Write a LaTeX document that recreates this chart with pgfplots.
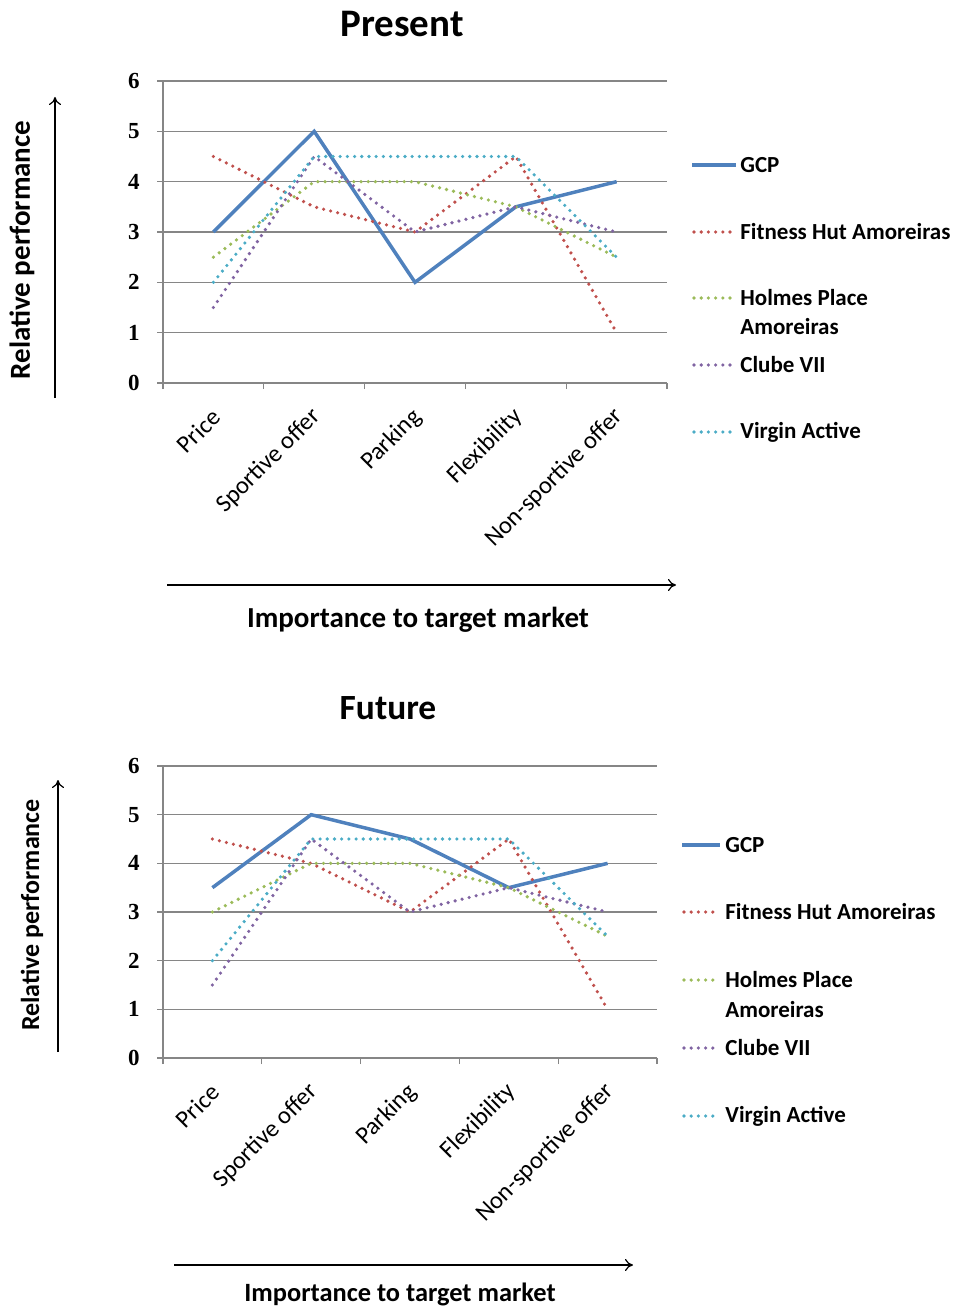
\documentclass[border=0pt]{standalone}
\usepackage{fontspec}
\setmainfont{Carlito}
\newfontfamily\numfont{Liberation Serif}
\usepackage{pgfplots}
\pgfplotsset{compat=1.18}
\usetikzlibrary{arrows.meta}
\definecolor{gcpblue}{HTML}{4F81BD}
\definecolor{fitred}{HTML}{C0504D}
\definecolor{holgreen}{HTML}{9BBB59}
\definecolor{clubpurple}{HTML}{8064A2}
\definecolor{virgincyan}{HTML}{4BACC6}
\definecolor{gridgray}{HTML}{868686}
\tikzset{
  gcpline/.style={gcpblue, line width=1.75pt, solid},
  dotline/.style={line width=1.8pt, line cap=round, dash pattern=on 0pt off 3.6pt},
}
\pgfplotsset{
  excelaxis/.style={
    scale only axis, anchor=south west,
    xmin=-0.5, xmax=4.5, ymin=0, ymax=6,
    ytick={0,1,2,3,4,5,6},
    xtick={0,1,2,3,4},
    xticklabels={Price,Sportive offer,Parking,Flexibility,Non-sportive offer},
    minor xtick={-0.5,0.5,1.5,2.5,3.5,4.5},
    axis x line*=bottom, axis y line*=left,
    axis line style={gridgray, line width=0.6pt},
    ymajorgrids, grid style={gridgray, line width=0.6pt},
    tick align=outside,
    major tick length=3pt, minor tick length=3pt,
    major x tick style={draw=none},
    minor x tick style={gridgray, line width=0.6pt},
    major y tick style={gridgray, line width=0.6pt},
    /pgf/number format/assume math mode=true,
    yticklabel style={font=\numfont\bfseries\fontsize{11.5}{12}\selectfont, inner sep=0pt, xshift=-8.5pt},
    xticklabel style={xshift=1.5pt, yshift=-12pt, rotate=45, anchor=east, inner sep=0pt, font=\fontsize{12.3}{14}\selectfont},
  }
}
\begin{document}
\begin{tikzpicture}
\path[use as bounding box] (0pt,0pt) rectangle (477pt,-655.5pt);
% ---------------- Present ----------------
\node[font=\bfseries\fontsize{19.5}{22}\selectfont] at (201pt,-12pt) {Present};
\begin{axis}[excelaxis, at={(81.5pt,-191.5pt)}, width=252pt, height=151pt]
\addplot[gcpline] coordinates {(0,3) (1,5) (2,2) (3,3.5) (4,4)};
\addplot[dotline, fitred] coordinates {(0,4.5) (1,3.5) (2,3) (3,4.5) (4,1)};
\addplot[dotline, holgreen] coordinates {(0,2.5) (1,4) (2,4) (3,3.5) (4,2.5)};
\addplot[dotline, clubpurple] coordinates {(0,1.5) (1,4.5) (2,3) (3,3.5) (4,3)};
\addplot[dotline, virgincyan] coordinates {(0,2) (1,4.5) (2,4.5) (3,4.5) (4,2.5)};
\end{axis}
\node[rotate=90, font=\bfseries\fontsize{14.5}{16}\selectfont] at (11pt,-125pt) {Relative performance};
\draw[-{To[length=4pt,width=6pt]}, line width=0.6pt] (27.5pt,-199pt) -- (27.5pt,-48.5pt);
\draw[-{To[length=4pt,width=6pt]}, line width=0.6pt] (83.5pt,-292.5pt) -- (338pt,-292.5pt);
\node[font=\bfseries\fontsize{14.5}{16}\selectfont] at (209pt,-310pt) {Importance to target market};
% legend (Present)
\begin{scope}[font=\bfseries\fontsize{11.5}{13}\selectfont]
\draw[gcpline] (346pt,-82.5pt) -- (368pt,-82.5pt);
\node[anchor=west, inner sep=0pt] at (370pt,-82.5pt) {GCP};
\draw[dotline, fitred] (347pt,-116pt) -- (367pt,-116pt);
\node[anchor=west, inner sep=0pt] at (370pt,-116pt) {Fitness Hut Amoreiras};
\draw[dotline, holgreen] (347pt,-149pt) -- (367pt,-149pt);
\node[anchor=west, inner sep=0pt] at (370pt,-149pt) {Holmes Place};
\node[anchor=west, inner sep=0pt] at (370pt,-163.5pt) {Amoreiras};
\draw[dotline, clubpurple] (347pt,-182.5pt) -- (367pt,-182.5pt);
\node[anchor=west, inner sep=0pt] at (370pt,-182.5pt) {Clube VII};
\draw[dotline, virgincyan] (347pt,-216pt) -- (367pt,-216pt);
\node[anchor=west, inner sep=0pt] at (370pt,-216pt) {Virgin Active};
\end{scope}
% ---------------- Future ----------------
\node[font=\bfseries\fontsize{17.7}{20}\selectfont] at (194pt,-354pt) {Future};
\begin{axis}[excelaxis, at={(81.5pt,-529pt)}, width=247pt, height=146pt]
\addplot[gcpline] coordinates {(0,3.5) (1,5) (2,4.5) (3,3.5) (4,4)};
\addplot[dotline, fitred] coordinates {(0,4.5) (1,4) (2,3) (3,4.5) (4,1)};
\addplot[dotline, holgreen] coordinates {(0,3) (1,4) (2,4) (3,3.5) (4,2.5)};
\addplot[dotline, clubpurple] coordinates {(0,1.5) (1,4.5) (2,3) (3,3.5) (4,3)};
\addplot[dotline, virgincyan] coordinates {(0,2) (1,4.5) (2,4.5) (3,4.5) (4,2.5)};
\end{axis}
\node[rotate=90, font=\bfseries\fontsize{13}{15}\selectfont] at (16pt,-457.5pt) {Relative performance};
\draw[-{To[length=4pt,width=6pt]}, line width=0.6pt] (29pt,-526pt) -- (29pt,-390pt);
\draw[-{To[length=4pt,width=6pt]}, line width=0.6pt] (87pt,-632.5pt) -- (316.5pt,-632.5pt);
\node[font=\bfseries\fontsize{13.2}{15}\selectfont] at (200pt,-647pt) {Importance to target market};
% legend (Future)
\begin{scope}[font=\bfseries\fontsize{11.5}{13}\selectfont]
\draw[gcpline] (341pt,-422.5pt) -- (360pt,-422.5pt);
\node[anchor=west, inner sep=0pt] at (362.5pt,-422.5pt) {GCP};
\draw[dotline, fitred] (342pt,-456pt) -- (360pt,-456pt);
\node[anchor=west, inner sep=0pt] at (362.5pt,-456pt) {Fitness Hut Amoreiras};
\draw[dotline, holgreen] (342pt,-490pt) -- (360pt,-490pt);
\node[anchor=west, inner sep=0pt] at (362.5pt,-490pt) {Holmes Place};
\node[anchor=west, inner sep=0pt] at (362.5pt,-505pt) {Amoreiras};
\draw[dotline, clubpurple] (342pt,-524pt) -- (360pt,-524pt);
\node[anchor=west, inner sep=0pt] at (362.5pt,-524pt) {Clube VII};
\draw[dotline, virgincyan] (342pt,-558pt) -- (360pt,-558pt);
\node[anchor=west, inner sep=0pt] at (362.5pt,-558pt) {Virgin Active};
\end{scope}
\end{tikzpicture}
\end{document}
